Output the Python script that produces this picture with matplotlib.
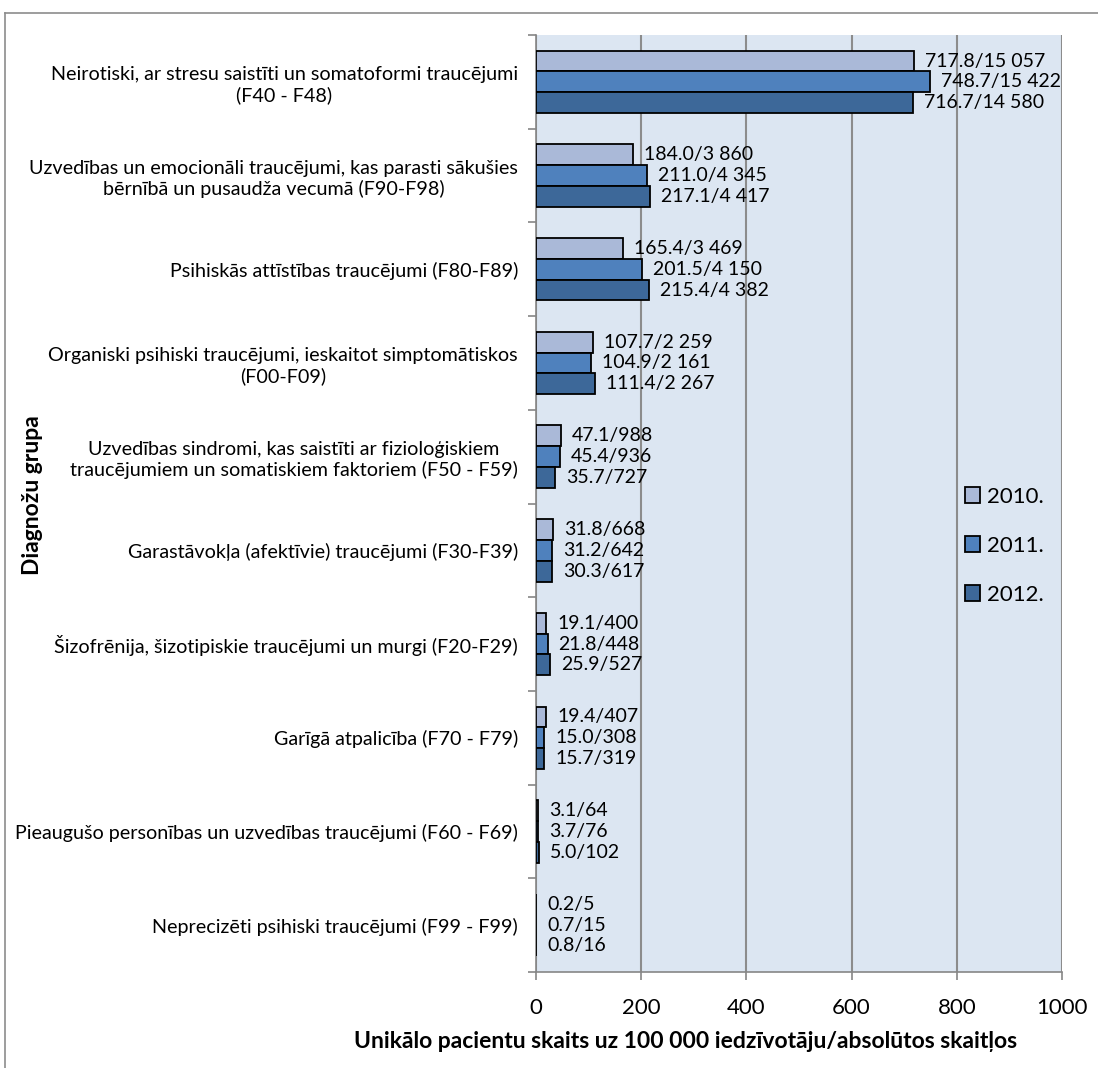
import matplotlib
matplotlib.use("Agg")
from matplotlib import pyplot as plt
from matplotlib.lines import Line2D
import numpy as np

plt.rcParams['font.family'] = ['Lato', 'DejaVu Sans']

categories = [
    "Neirotiski, ar stresu saistīti un somatoformi traucējumi\n(F40 - F48)",
    "Uzvedības un emocionāli traucējumi, kas parasti sākušies\nbērnībā un pusaudža vecumā (F90-F98)",
    "Psihiskās attīstības traucējumi (F80-F89)",
    "Organiski psihiski traucējumi, ieskaitot simptomātiskos\n(F00-F09)",
    "Uzvedības sindromi, kas saistīti ar fizioloģiskiem\ntraucējumiem un somatiskiem faktoriem (F50 - F59)",
    "Garastāvokļa (afektīvie) traucējumi (F30-F39)",
    "Šizofrēnija, šizotipiskie traucējumi un murgi (F20-F29)",
    "Garīgā atpalicība (F70 - F79)",
    "Pieaugušo personības un uzvedības traucējumi (F60 - F69)",
    "Neprecizēti psihiski traucējumi (F99 - F99)",
]

years = ["2010.", "2011.", "2012."]

# rate per 100 000 inhabitants
rate_2010 = [717.8, 184.0, 165.4, 107.7, 47.1, 31.8, 19.1, 19.4, 3.1, 0.2]
rate_2011 = [748.7, 211.0, 201.5, 104.9, 45.4, 31.2, 21.8, 15.0, 3.7, 0.7]
rate_2012 = [716.7, 217.1, 215.4, 111.4, 35.7, 30.3, 25.9, 15.7, 5.0, 0.8]

# absolute patient counts
count_2010 = ["15 057", "3 860", "3 469", "2 259", "988", "668", "400", "407", "64", "5"]
count_2011 = ["15 422", "4 345", "4 150", "2 161", "936", "642", "448", "308", "76", "15"]
count_2012 = ["14 580", "4 417", "4 382", "2 267", "727", "617", "527", "319", "102", "16"]

rates = [rate_2010, rate_2011, rate_2012]
counts = [count_2010, count_2011, count_2012]
colors = ['#aab9d8', '#4f81bd', '#3d6899']

fig = plt.figure(figsize=(10.98, 10.68), dpi=100)
ax = fig.add_axes([0.4882, 0.0899, 0.4790, 0.8773])
ax.set_facecolor('#dce6f2')

n = len(categories)
y = np.arange(n)
bar_h = 0.222
handles = []
for i in range(3):
    pos = y + (i - 1) * bar_h
    h = ax.barh(pos, rates[i], height=bar_h, color=colors[i],
                edgecolor='black', linewidth=1.3, label=years[i], zorder=3)
    handles.append(h)
    for p, v, c in zip(pos, rates[i], counts[i]):
        ax.annotate("%.1f/%s" % (v, c), (v, p), xytext=(8, 0),
                    textcoords='offset points', va='center', ha='left',
                    fontsize=14, color='black', zorder=4)

ax.set_xlim(0, 1000)
ax.set_ylim(n - 0.5, -0.5)
ax.set_xticks([0, 200, 400, 600, 800, 1000])
ax.tick_params(axis='x', labelsize=16, length=6, width=1.2, color='#868686',
               pad=13)
ax.set_yticks(y)
ax.set_yticklabels(categories, fontsize=14.2, multialignment='center')
ax.tick_params(axis='y', length=0, pad=13)
ax.set_yticks(np.arange(-0.5, n, 1.0), minor=True)
ax.tick_params(axis='y', which='minor', length=6, width=1.2, color='#868686')

ax.grid(axis='x', color='#8c8c8c', linewidth=1.5, zorder=1)
ax.set_axisbelow(True)
for s in ['top', 'right']:
    ax.spines[s].set_visible(False)
for s in ['left', 'bottom']:
    ax.spines[s].set_color('#868686')
    ax.spines[s].set_linewidth(1.2)

leg = ax.legend(handles=handles, loc='center left', bbox_to_anchor=(0.815, 0.455),
                frameon=False, fontsize=16, handlelength=0.7,
                handleheight=0.7, handletextpad=0.3, labelspacing=1.3,
                borderpad=0, borderaxespad=0)

fig.text(686 / 1098, 1 - 1042 / 1068,
         "Unikālo pacientu skaits uz 100 000 iedzīvotāju/absolūtos skaitļos",
         ha='center', va='center', fontsize=16.5, fontweight='bold')
fig.text(33 / 1098, 1 - 495 / 1068, "Diagnožu grupa", rotation=90,
         ha='center', va='center', fontsize=16.5, fontweight='bold')

# outer chart frame
x0 = 5 / 1098
y0 = 1 - 13 / 1068
fig.add_artist(Line2D([x0, x0], [0, y0], color='#8c8c8c', linewidth=1.2))
fig.add_artist(Line2D([x0, 1], [y0, y0], color='#8c8c8c', linewidth=1.2))

fig.savefig('out.png', dpi=100)
